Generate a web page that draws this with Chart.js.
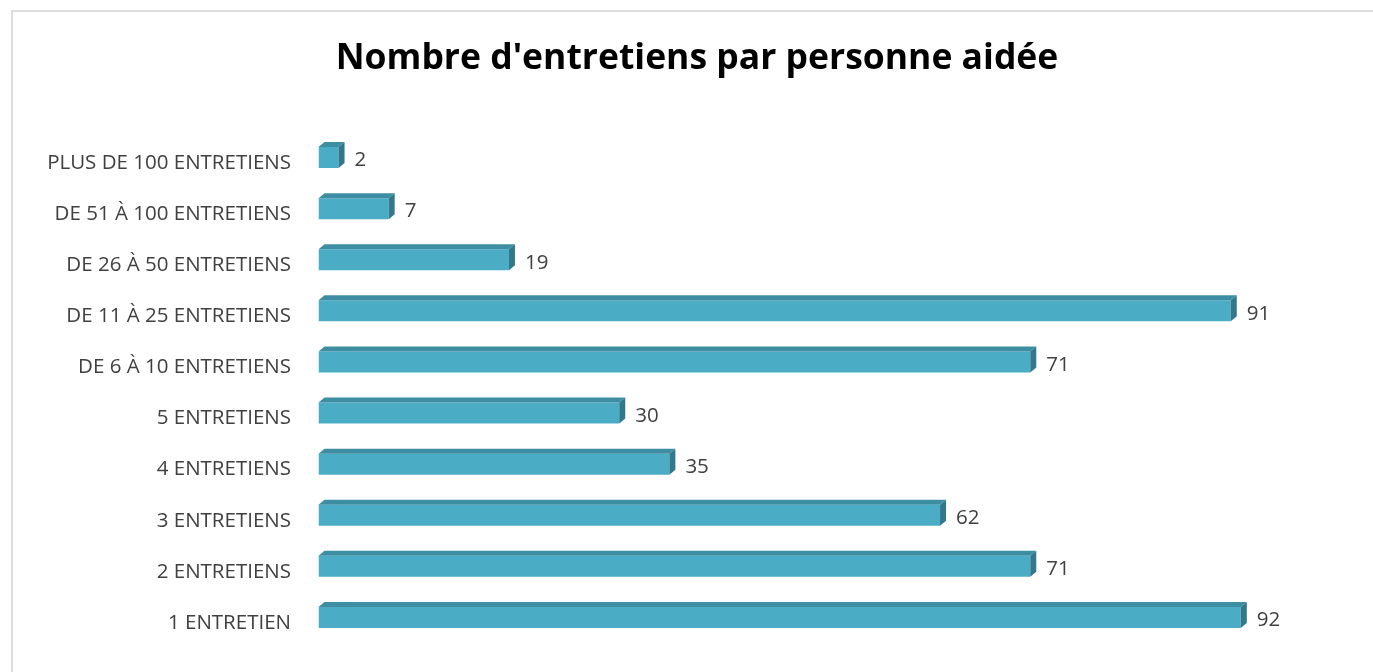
<!DOCTYPE html>
<html>
<head>
<meta charset="utf-8">
<script src="https://cdn.jsdelivr.net/npm/chart.js@4"></script>
<style>
  html, body { margin: 0; padding: 0; background: #fff; overflow: hidden; }
  #cadre {
    position: absolute; left: 11px; top: 10px;
    width: 1372px; height: 662px;
    border-left: 2px solid #dcdcdc; border-top: 2px solid #dcdcdc;
    box-sizing: border-box;
  }
  #myChart { position: absolute; left: -2px; top: -2px; }
</style>
</head>
<body>
<div id="cadre"><canvas id="myChart" width="1372" height="662"></canvas></div>
<script>
// categories (du haut vers le bas)
const categories = [
  'PLUS DE 100 ENTRETIENS',
  'DE 51 À 100 ENTRETIENS',
  'DE 26 À 50 ENTRETIENS',
  'DE 11 À 25 ENTRETIENS',
  'DE 6 À 10 ENTRETIENS',
  '5 ENTRETIENS',
  '4 ENTRETIENS',
  '3 ENTRETIENS',
  '2 ENTRETIENS',
  '1 ENTRETIEN'
];
// nombre de personnes
const valeurs = [2, 7, 19, 91, 71, 30, 35, 62, 71, 92];
const titre = "Nombre d'entretiens par personne aidée";

const couleurFace = '#4bacc6';
const couleurDessus = '#3d8ea3';
const couleurCote = '#31788a';

// effet 3D : dessus et cote de chaque barre
const relief = {
  id: 'relief',
  afterDatasetsDraw(chart) {
    const ctx = chart.ctx;
    const dx = 6, dy = 5;
    chart.getDatasetMeta(0).data.forEach(b => {
      const h = b.height, top = b.y - h / 2, bot = b.y + h / 2;
      ctx.save();
      ctx.fillStyle = couleurDessus;
      ctx.beginPath();
      ctx.moveTo(b.base, top);
      ctx.lineTo(b.base + dx, top - dy);
      ctx.lineTo(b.x + dx, top - dy);
      ctx.lineTo(b.x, top);
      ctx.closePath();
      ctx.fill();
      ctx.fillStyle = couleurCote;
      ctx.beginPath();
      ctx.moveTo(b.x, top);
      ctx.lineTo(b.x + dx, top - dy);
      ctx.lineTo(b.x + dx, bot - dy);
      ctx.lineTo(b.x, bot);
      ctx.closePath();
      ctx.fill();
      ctx.restore();
    });
  }
};

// etiquettes de valeur + titre centre sur toute la largeur
const etiquettes = {
  id: 'etiquettes',
  afterDraw(chart) {
    const ctx = chart.ctx;
    ctx.save();
    ctx.font = '20.5px "Open Sans"';
    ctx.fillStyle = '#404040';
    ctx.textAlign = 'left';
    ctx.textBaseline = 'middle';
    chart.getDatasetMeta(0).data.forEach((b, i) => {
      ctx.fillText(String(valeurs[i]), b.x + 16, b.y + 3);
    });
    ctx.font = 'bold 35.5px "Open Sans"';
    ctx.fillStyle = '#000000';
    ctx.textAlign = 'center';
    ctx.fillText(titre, chart.width / 2, 49);
    ctx.restore();
  }
};

const ctx = document.getElementById('myChart');
new Chart(ctx, {
  type: 'bar',
  data: {
    labels: categories,
    datasets: [{
      data: valeurs,
      backgroundColor: couleurFace,
      borderWidth: 0,
      categoryPercentage: 1,
      barPercentage: 0.41
    }]
  },
  options: {
    indexAxis: 'y',
    responsive: false,
    animation: false,
    layout: { padding: { left: 0, right: 62, top: 122, bottom: 29 } },
    plugins: {
      legend: { display: false },
      tooltip: { enabled: false },
      title: { display: false }
    },
    scales: {
      x: {
        display: false,
        min: 0,
        max: 100
      },
      y: {
        grid: { display: false, drawTicks: false },
        border: { display: false },
        ticks: {
          color: '#404040',
          font: { family: '"Open Sans"', size: 20.5 },
          padding: 27.5,
          labelOffset: 5.5
        },
        afterFit(s) {
          s.width = 307.5;
          s.paddingTop = 0;
          s.paddingBottom = 0;
        }
      }
    }
  },
  plugins: [relief, etiquettes]
});
</script>
</body>
</html>
